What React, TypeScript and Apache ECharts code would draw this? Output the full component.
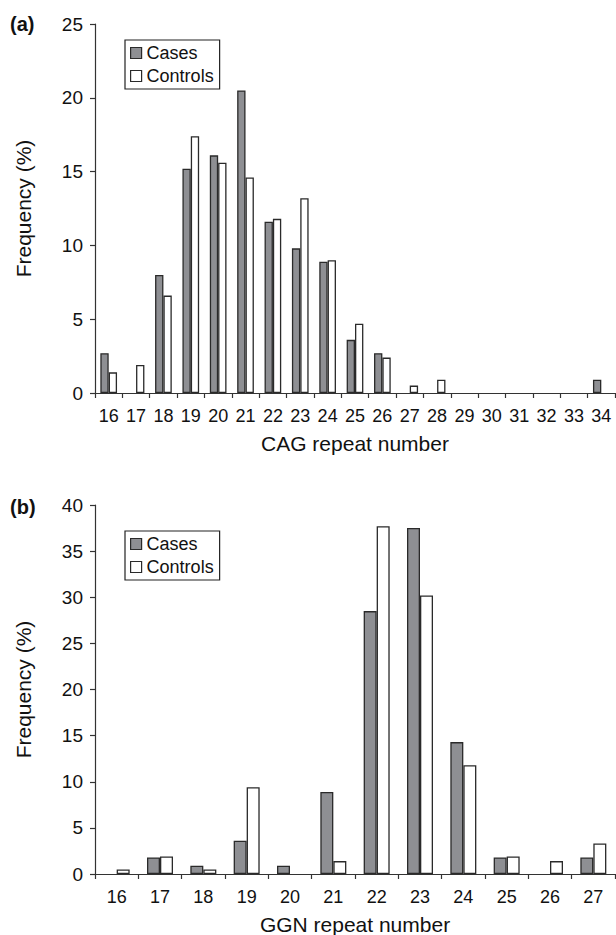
import React, { useEffect, useRef } from "react";
import * as echarts from "echarts";

const cagCategories = ["16","17","18","19","20","21","22","23","24","25","26","27","28","29","30","31","32","33","34"];
const cagCases = [2.7, 0, 8.0, 15.2, 16.1, 20.5, 11.6, 9.8, 8.9, 3.6, 2.7, 0, 0, 0, 0, 0, 0, 0, 0.9];
const cagControls = [1.4, 1.9, 6.6, 17.4, 15.6, 14.6, 11.8, 13.2, 9.0, 4.7, 2.4, 0.5, 0.9, 0, 0, 0, 0, 0, 0];

const ggnCategories = ["16","17","18","19","20","21","22","23","24","25","26","27"];
const ggnCases = [0, 1.8, 0.9, 3.6, 0.9, 8.9, 28.5, 37.5, 14.3, 1.8, 0, 1.8];
const ggnControls = [0.5, 1.9, 0.5, 9.4, 0, 1.4, 37.7, 30.2, 11.8, 1.9, 1.4, 3.3];

const FONT = "'Liberation Sans', Arial, Helvetica, sans-serif";
const AXIS = "#333333";
const EDGE = "#2a2a2a";
const GRAY = "#8e8f93";

const nz = (arr: number[]) => arr.map((v) => (v === 0 ? null : v));

export default function App() {
  const ref = useRef<HTMLDivElement>(null);
  useEffect(() => {
    document.body.style.margin = "0";
    const chart = echarts.init(ref.current!, null, { renderer: "svg" });
    const xAxisBase = (idx: number, cats: string[]) => ({
      type: "category",
      gridIndex: idx,
      data: cats,
      axisLine: { lineStyle: { color: AXIS, width: 1.2 } },
      axisTick: { show: true, length: 5, lineStyle: { color: AXIS, width: 1.2 } },
      axisLabel: { interval: 0, color: "#111", fontSize: 18, fontFamily: FONT, margin: 14 },
      splitLine: { show: false },
    });
    const yAxisBase = (idx: number, max: number) => ({
      type: "value",
      gridIndex: idx,
      min: 0,
      max,
      interval: 5,
      axisLine: { show: true, lineStyle: { color: AXIS, width: 1.2 } },
      axisTick: { show: true, length: 5, lineStyle: { color: AXIS, width: 1.2 } },
      axisLabel: { color: "#111", fontSize: 19, fontFamily: FONT, margin: 12 },
      splitLine: { show: false },
    });
    const casesStyle = { color: GRAY, borderColor: EDGE, borderWidth: 1.3 };
    const ctrlStyle = { color: "#ffffff", borderColor: EDGE, borderWidth: 1.3 };
    const legendBase = (top: number) => ({
      orient: "vertical",
      left: 125,
      top,
      width: 96,
      padding: [4, 6, 4, 5],
      itemGap: 5,
      itemWidth: 11,
      itemHeight: 11,
      icon: "rect",
      borderColor: "#222",
      borderWidth: 1.2,
      backgroundColor: "#fff",
      selectedMode: false,
      data: ["Cases", "Controls"],
      textStyle: { fontSize: 18, fontFamily: FONT, color: "#111", lineHeight: 18, padding: [0, 0, 0, 0] },
      itemStyle: { borderWidth: 1.2, borderColor: EDGE },
    });
    const option = {
      animation: false,
      backgroundColor: "#ffffff",
      grid: [
        { left: 95, top: 24, width: 520, height: 369 },
        { left: 95, top: 505, width: 520, height: 369 },
      ],
      xAxis: [xAxisBase(0, cagCategories), xAxisBase(1, ggnCategories)],
      yAxis: [yAxisBase(0, 25), yAxisBase(1, 40)],
      legend: [legendBase(40), legendBase(531)],
      series: [
        { name: "Cases", type: "bar", xAxisIndex: 0, yAxisIndex: 0, data: nz(cagCases), itemStyle: casesStyle, barGap: "0%", barCategoryGap: "39%" },
        { name: "Controls", type: "bar", xAxisIndex: 0, yAxisIndex: 0, data: nz(cagControls), itemStyle: ctrlStyle, barGap: "0%", barCategoryGap: "39%" },
        { name: "Cases", type: "bar", xAxisIndex: 1, yAxisIndex: 1, data: nz(ggnCases), itemStyle: casesStyle, barGap: "0%", barCategoryGap: "40%" },
        { name: "Controls", type: "bar", xAxisIndex: 1, yAxisIndex: 1, data: nz(ggnControls), itemStyle: ctrlStyle, barGap: "0%", barCategoryGap: "40%" },
      ],
      graphic: [
        { type: "text", left: 10, top: 14, style: { text: "(a)", font: `bold 20px ${FONT}`, fill: "#111" } },
        { type: "text", left: 10, top: 497, style: { text: "(b)", font: `bold 20px ${FONT}`, fill: "#111" } },
        { type: "text", x: 23, y: 208.5, rotation: Math.PI / 2, style: { text: "Frequency (%)", font: `21px ${FONT}`, fill: "#111", align: "center", verticalAlign: "middle" } },
        { type: "text", x: 23, y: 689.5, rotation: Math.PI / 2, style: { text: "Frequency (%)", font: `21px ${FONT}`, fill: "#111", align: "center", verticalAlign: "middle" } },
        { type: "text", x: 355, y: 443, style: { text: "CAG repeat number", font: `21px ${FONT}`, fill: "#111", align: "center", verticalAlign: "middle" } },
        { type: "text", x: 355, y: 924, style: { text: "GGN repeat number", font: `21px ${FONT}`, fill: "#111", align: "center", verticalAlign: "middle" } },
      ],
    };
    chart.setOption(option as any);
    return () => chart.dispose();
  }, []);
  return <div ref={ref} style={{ position: "absolute", left: 0, top: 0, width: 616, height: 935 }} />;
}
